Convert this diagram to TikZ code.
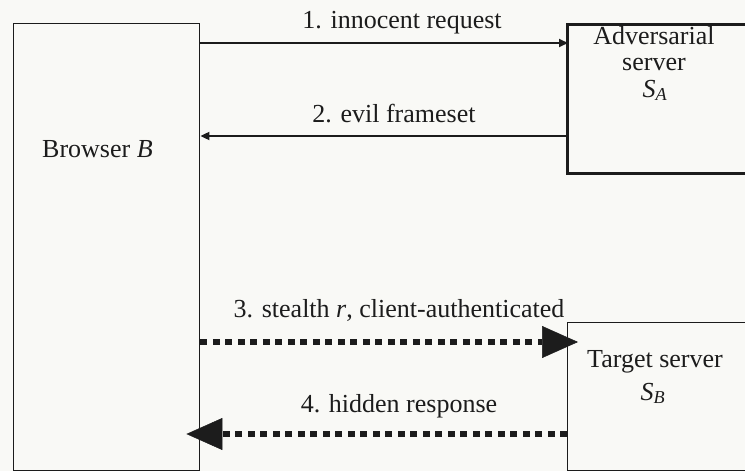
\documentclass[tikz,border=0pt]{standalone}
\usepackage{fontspec}
\setmainfont{Liberation Serif}
\usetikzlibrary{arrows.meta,calc}
\definecolor{ink}{RGB}{28,28,28}
\definecolor{paper}{RGB}{249,249,246}
\newcommand\mysub[2]{\textit{#1}\textsubscript{\textit{#2}}}
\begin{document}
\begin{tikzpicture}[x=1pt,y=-1pt,
  boxthin/.style={draw=ink, line width=1.4pt, rectangle, inner sep=0pt},
  boxthick/.style={draw=ink, line width=3pt, rectangle, inner sep=0pt},
  lbl/.style={inner sep=0pt, text=ink, font=\fontsize{26}{30}\selectfont},
  msg/.style={draw=ink, line width=1.8pt, -{Triangle[length=9pt,width=8pt]}},
  hidden/.style={draw=ink, line width=5.5pt, dash pattern=on 7pt off 5.5pt,
    -{Triangle[length=36pt,width=32pt,line width=0.5pt]}}]
\clip (0,0) rectangle (745,471);
\fill[paper] (0,0) rectangle (745,471);
% boxes
\node[boxthin, minimum width=186pt, minimum height=447pt, anchor=north west] (browser) at (13,23) {};
\node[boxthick, minimum width=220pt, minimum height=149pt, anchor=north west] (adv) at (566,23) {};
\node[boxthin, minimum width=220pt, minimum height=148pt, anchor=north west] (target) at (567,322) {};
% box texts
\node[lbl, anchor=base west] (browsertxt) at (42,157) {Browser \textit{B}};
\node[lbl, anchor=base] (advtxt1) at (654,45) {Adversarial};
\node[lbl, anchor=base] (advtxt2) at (654,70) {server};
\node[lbl, anchor=base] (advtxt3) at (655,97) {\mysub{S}{A}};
\node[lbl, anchor=base] (tgttxt1) at (655,367) {Target server};
\node[lbl, anchor=base] (tgttxt2) at (653,400) {\mysub{S}{B}};
% message labels
\node[lbl, anchor=base] (l1) at (402,28) {1. innocent request};
\node[lbl, anchor=base] (l2) at (394,122) {2. evil frameset};
\node[lbl, anchor=base] (l3) at (399,317) {3. stealth \textit{r}, client-authenticated};
\node[lbl, anchor=base] (l4) at (399,412) {4. hidden response};
% connector heights
\coordinate (y1) at (0,43);
\coordinate (y2) at (0,136);
\coordinate (y3) at (0,342);
\coordinate (y4) at (0,434);
% connectors
\draw[msg] (browser.east |- y1) -- ($(adv.west |- y1)+(2,0)$);
\draw[msg] (adv.west |- y2) -- (browser.east |- y2);
\draw[hidden] (browser.east |- y3) -- ($(target.west |- y3)+(11,0)$);
\draw[hidden] (target.west |- y4) -- ($(browser.east |- y4)+(-14,0)$);
\end{tikzpicture}
\end{document}
